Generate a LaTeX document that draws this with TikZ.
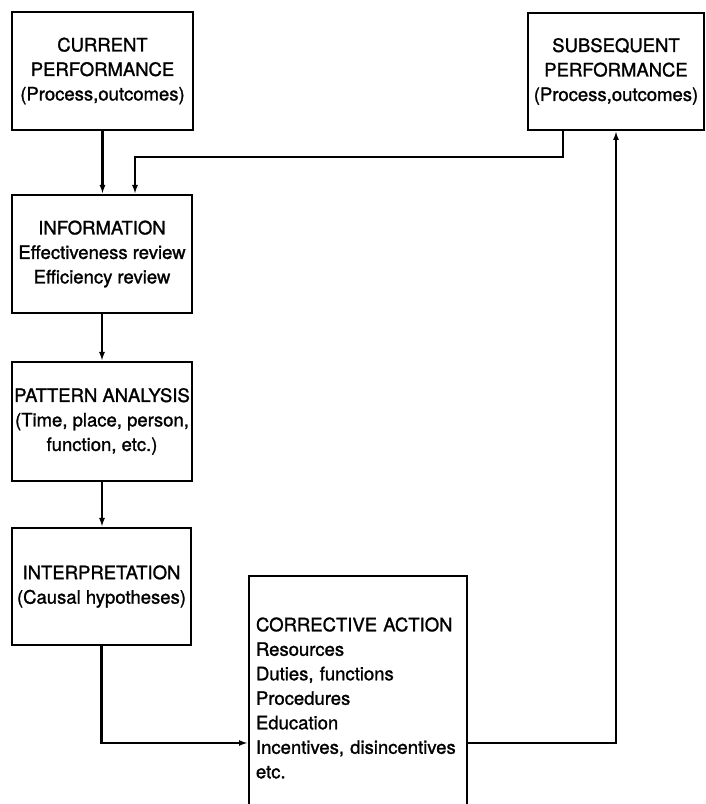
\documentclass[tikz,border=0pt]{standalone}
\usepackage{fontspec}
\setmainfont[FakeBold=1.3]{TeX Gyre Heros}
\usetikzlibrary{arrows.meta}
\tikzset{
  stage/.style={draw, line width=2pt, align=center, inner sep=2pt, font=\fontsize{18.5}{24.5}\selectfont},
  flow/.style={line width=2.3pt, -{Latex[length=9pt,width=6pt]}}
}

\begin{document}
\begin{tikzpicture}[x=1pt, y=1pt]
\useasboundingbox (0,0) rectangle (706,804);

%% left column
\node[stage, minimum width=181pt, minimum height=118pt] (cur) at (102.5,733)
  {CURRENT\\PERFORMANCE\\(Process,outcomes)};
\node[stage, minimum width=180pt, minimum height=118pt] (info) at (102,550)
  {INFORMATION\\Effectiveness review\\Efficiency review};
\node[stage, minimum width=180pt, minimum height=119pt] (patt) at (102,382.5)
  {PATTERN ANALYSIS\\(Time, place, person,\\function, etc.)};
\node[stage, minimum width=179pt, minimum height=117pt] (interp) at (101.5,217.5)
  {INTERPRETATION\\(Causal hypotheses)};

%% right side
\node[stage, minimum width=176pt, minimum height=117pt] (subs) at (616,732.5)
  {SUBSEQUENT\\PERFORMANCE\\(Process,outcomes)};
\node[stage, align=left, text width=204pt, inner xsep=7pt, minimum height=244pt] (corr) at (358,106)
  {CORRECTIVE ACTION\\Resources\\Duties, functions\\Procedures\\Education\\Incentives, disincentives\\etc.};

%% arrows
\draw[flow] (cur.south) -- (cur.south |- info.north);
\draw[flow] (info.south) -- (info.south |- patt.north);
\draw[flow] (patt.south) -- (patt.south |- interp.north);
\draw[flow] (interp.south) |- ([yshift=-45pt]corr.west);
\draw[flow] ([yshift=-45pt]corr.east) -| (subs.south);
\draw[flow] ([xshift=-53pt]subs.south) -- ++(0,-26) -| ([xshift=33pt]info.north);

\end{tikzpicture}
\end{document}
